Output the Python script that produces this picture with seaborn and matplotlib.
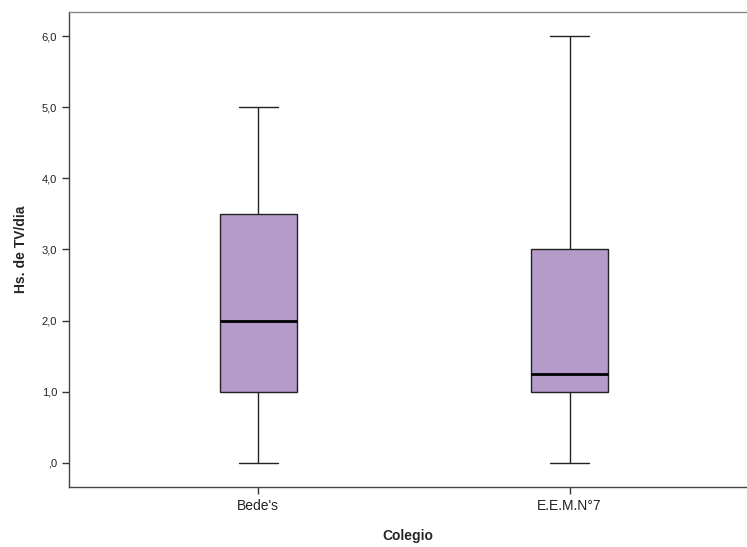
import numpy as np
import pandas as pd
import matplotlib
matplotlib.use("Agg")
import matplotlib.pyplot as plt
from matplotlib.ticker import FuncFormatter
import seaborn as sns

categories = ["Bede's", "E.E.M.N°7"]
bedes_hours = [0, 1, 1, 2, 3.5, 3.5, 5]
eem_hours = [0, 1, 1, 1, 1.5, 3, 3, 6]
y_ticks = [0, 1, 2, 3, 4, 5, 6]

df = pd.DataFrame({
    "Colegio": [categories[0]] * len(bedes_hours) + [categories[1]] * len(eem_hours),
    "Hs. de TV/dia": bedes_hours + eem_hours,
})

sns.set_style("ticks")
plt.rcParams["font.family"] = ["Liberation Sans", "DejaVu Sans"]

fig = plt.figure(figsize=(7.47, 5.47), dpi=100)
ax = fig.add_axes([69 / 747, 1 - 487 / 547, (747 - 69) / 747, (487 - 12) / 547])

sns.boxplot(data=df, x="Colegio", y="Hs. de TV/dia", order=categories,
            color="#B59BC9", saturation=1, width=0.248, whis=(0, 100),
            linewidth=1.0, linecolor="#222222",
            medianprops=dict(color="black", linewidth=2),
            ax=ax)

ax.set_ylim(-0.34, 6.34)
ax.set_xlim(-0.608, 1.57)
ax.set_yticks(y_ticks)

def fmt(v, pos):
    s = f"{v:.1f}".replace(".", ",")
    if s.startswith("0,"):
        s = s[1:]
    return s

ax.yaxis.set_major_formatter(FuncFormatter(fmt))
ax.tick_params(axis="y", labelsize=8, length=5, width=1, colors="#333333", labelcolor="#222222")
ax.tick_params(axis="x", labelsize=10, length=5, width=1, colors="#333333", labelcolor="#222222")
for s in ax.spines.values():
    s.set_color("#444444")
    s.set_linewidth(1)
ax.spines["top"].set_color("#888888")
ax.spines["right"].set_visible(False)

ax.set_xlabel("Colegio", fontsize=10, fontweight="bold", labelpad=12)
ax.set_ylabel("Hs. de TV/dia", fontsize=10, fontweight="bold", labelpad=10)

fig.savefig("out.png", dpi=100)
